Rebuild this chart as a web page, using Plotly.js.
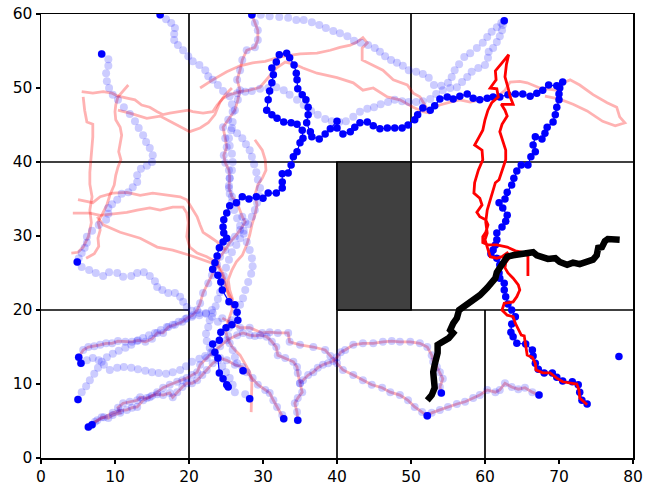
<!DOCTYPE html>
<html><head><meta charset="utf-8">
<script src="https://cdn.plot.ly/plotly-3.0.1.min.js"></script>
<style>html,body{margin:0;padding:0;background:#fff}#chart{width:646px;height:487px}</style>
</head><body><div id="chart"></div>
<script>
// ---------- walls & obstacle ----------
const wallSegments = [[[20,0],[20,60]],[[50,20],[50,60]],[[40,0],[40,40]],[[60,0],[60,20]],[[0,40],[80,40]],[[0,20],[20,20]],[[40,20],[80,20]]];
const blockX = [40,50,50,40,40];
const blockY = [20,20,40,40,20];

// ---------- start points (solid blue) ----------
const startPts = [[16.1,59.9],[8.2,54.6],[4.9,26.5],[5.1,13.6],[5.4,12.8],[5.0,7.9],[6.4,4.2],[6.9,4.5],[28.5,59.9],[62.6,59.1],[27.3,11.8],[28.2,8.0],[32.8,5.3],[34.7,5.1],[54.1,8.8],[52.2,5.7],[67.3,8.5],[78.1,13.7]];

// ---------- main executed trajectory (solid blue) ----------
const blueMain = [[25.3,9.6],[25.1,9.9],[24.6,10.7],[24.1,11.5],[23.9,13.5],[23.5,14.3],[23.2,15.4],[24.1,15.9],[24.3,17.0],[25.0,17.6],[25.8,18.0],[26.6,18.6],[26.5,19.7],[26.2,20.7],[25.4,21.1],[24.5,22.7],[24.3,23.8],[23.9,24.7],[23.2,25.5],[23.5,26.4],[23.8,27.3],[24.1,28.4],[24.6,29.2],[25.1,29.7],[24.7,30.4],[24.6,31.2],[24.7,32.2],[25.1,33.1],[25.5,34.1],[26.4,34.5],[27.2,35.3],[28.1,35.0],[29.1,35.3],[30.0,35.1],[30.7,35.8],[31.8,35.8],[32.6,36.5],[32.6,37.3],[32.6,38.4],[33.4,38.5],[33.8,39.6],[34.1,40.7],[34.6,41.4],[35.0,42.6],[35.4,43.2],[35.3,44.3],[34.6,45.1],[33.8,45.3],[32.8,45.4],[31.9,45.9],[31.2,46.4],[30.5,47.0],[30.7,48.4],[30.9,49.6],[31.2,50.7],[31.4,51.8],[31.2,52.7],[31.8,53.5],[32.2,54.5],[33.2,54.7],[33.6,54.1],[34.2,53.1],[34.5,52.0],[34.6,51.1],[34.7,49.9],[35.3,49.1],[35.8,48.4],[36.1,47.4],[36.1,46.4],[35.9,45.3],[36.4,44.1],[36.6,43.4],[37.6,43.1],[38.4,43.8],[39.1,44.5],[40.0,45.5],[40.0,44.6],[40.8,43.8],[41.8,44.1],[42.4,44.7],[43.1,45.3],[44.1,45.4],[44.9,44.9],[45.8,44.5],[46.8,44.6],[47.8,44.6],[48.8,44.6],[49.6,45.0],[50.5,45.7],[50.9,46.4],[51.6,47.3],[52.6,47.0],[53.2,47.6],[53.9,48.5],[54.9,48.8],[55.7,48.5],[56.6,48.9],[57.6,49.2],[58.4,48.6],[59.3,48.4],[60.3,48.6],[61.1,48.8],[62.0,48.8],[63.1,49.1],[64.1,49.2],[65.1,49.2],[66.1,48.9],[67.0,49.3],[67.8,49.7],[68.6,50.4],[69.7,50.3],[70.5,50.8],[70.1,50.0],[70.0,49.2],[70.0,48.4],[69.7,47.4],[69.5,46.4],[69.2,45.4],[68.4,44.7],[68.1,43.9],[67.7,43.1],[66.8,43.4],[66.5,42.3],[66.8,41.4],[66.2,40.7],[65.8,39.6],[64.9,39.6],[64.3,38.8],[63.9,37.8],[63.6,36.9],[63.0,35.9],[62.7,35.0],[61.9,34.5],[62.4,33.8],[63.0,32.8],[62.8,32.0],[62.3,31.2],[61.6,30.4],[61.6,29.5],[61.4,28.8],[61.1,28.1],[60.8,27.6],[61.6,27.0],[62.0,26.1],[61.9,25.0],[62.0,24.3],[62.6,23.6],[62.6,22.7],[62.8,21.8],[63.1,20.8],[63.6,20.0],[64.1,19.1],[63.6,18.1],[63.5,17.0],[63.8,16.4],[64.3,15.5],[65.5,15.4],[66.4,14.6],[66.5,13.8],[66.8,12.8],[67.2,12.0],[68.0,11.5],[69.1,11.5],[69.7,10.9],[70.5,10.4],[71.8,10.3],[72.6,9.9],[72.8,8.9],[73.1,7.8],[73.8,7.3]];

// ---------- solid red trajectory ----------
const redMain = [[73.8,7.2],[73.4,7.6],[72.8,8.1],[72.7,9.2],[72.4,10.0],[71.8,10.1],[70.5,10.3],[69.7,10.8],[68.8,11.5],[67.8,11.5],[66.9,11.9],[66.8,12.8],[66.4,13.6],[65.7,13.9],[65.4,15.5],[65.3,16.5],[64.9,16.6],[64.5,17.3],[64.1,18.2],[63.8,19.1],[63.0,19.3],[62.3,20.0],[62.6,20.9],[63.8,21.1],[64.3,21.8],[64.7,22.7],[64.5,23.4],[63.8,24.3],[63.1,25.0],[62.7,25.7],[62.8,26.4],[63.4,27.2],[63.0,27.7],[62.3,27.2],[61.6,27.0],[60.7,27.2],[60.3,28.5],[60.0,29.5],[60.3,30.4],[60.1,31.9],[60.3,33.5],[60.7,34.9],[61.1,36.2],[61.4,37.2],[61.9,37.6],[62.3,38.9],[62.8,40.3],[62.8,41.6],[62.4,43.0],[62.0,44.1],[62.3,45.1],[63.0,46.2],[62.7,47.0],[62.2,47.8],[63.8,47.8],[63.4,48.8],[63.1,50.1],[62.7,51.5],[62.9,53.2],[63.2,54.5],[62.3,53.4],[61.4,52.3],[61.5,51.1],[60.7,50.0],[61.6,49.9],[61.8,48.8],[60.9,48.0],[60.4,47.0],[60.0,45.7],[59.7,44.3],[59.1,43.2],[58.6,42.3],[59.6,41.6],[59.7,40.3],[59.1,38.9],[58.6,37.2],[58.5,35.8],[59.3,35.1],[59.6,34.2],[58.9,33.2],[59.3,32.6],[60.1,32.2],[60.4,31.5],[60.1,30.5],[59.7,29.9],[59.7,29.1],[60.4,28.8],[61.6,28.8],[63.0,28.5],[64.1,28.0],[65.1,27.8],[65.8,27.3],[65.8,25.8],[65.8,24.6]];

// ---------- black trajectory ----------
const blackPath = [[52.2,7.8],[52.8,8.5],[53.2,9.5],[53.0,10.5],[53.0,11.6],[53.2,12.6],[53.6,14.2],[53.6,15.3],[54.3,15.7],[55.1,16.2],[55.7,16.9],[55.3,17.3],[55.7,18.2],[56.2,18.9],[56.5,20.0],[57.6,20.8],[58.4,21.4],[59.3,22.0],[60.3,23.0],[60.7,23.6],[61.4,24.3],[61.6,25.1],[62.0,25.7],[62.4,26.5],[63.0,27.2],[63.8,27.4],[64.7,27.6],[65.8,27.7],[66.5,27.8],[67.0,27.4],[67.8,27.2],[68.5,26.9],[69.5,27.0],[70.1,26.5],[71.1,26.1],[71.9,26.4],[72.8,26.2],[73.8,26.5],[74.6,26.8],[75.1,27.4],[75.3,28.4],[75.8,28.5],[76.2,29.3],[76.6,29.6],[77.3,29.6],[78.2,29.5]];

// ---------- faint blue (dots only) ----------
const lb1 = [[16.1,59.9],[16.9,59.3],[17.6,58.8],[18.1,58.1],[18.0,57.3],[18.0,56.5],[18.5,55.8],[19.2,55.1],[19.9,54.3],[20.5,53.6],[21.4,53.1],[22.2,52.4],[22.6,51.6],[23.2,51.1],[23.9,50.4],[24.6,49.6],[25.5,48.9],[26.5,49.3],[27.6,49.5],[28.5,49.6],[29.6,49.9],[30.7,50.0],[31.8,50.1],[32.8,49.7],[33.6,49.1],[34.6,48.4],[35.5,47.7],[36.5,46.9],[37.4,46.4],[38.4,45.8],[39.3,45.5],[40.3,45.4],[41.2,45.5],[42.2,46.1],[43.1,46.8],[44.1,47.2],[45.0,47.4],[45.9,47.8],[46.9,48.1],[47.8,48.4],[48.8,48.2],[49.7,48.1],[50.7,48.1],[51.6,48.2],[52.6,48.5],[53.4,49.2],[54.3,49.7],[55.3,50.0],[56.2,50.1],[56.9,50.8],[57.6,51.5],[58.2,52.2],[59.1,52.7],[60.0,53.1],[60.4,54.1],[60.5,54.9],[61.1,55.4],[61.6,56.2],[62.0,57.0],[62.3,57.8],[62.4,58.5],[62.6,59.1]];
const lb2 = [[28.5,59.9],[29.7,59.9],[30.9,59.7],[32.2,59.6],[33.4,59.5],[34.5,59.2],[35.5,59.2],[36.6,58.9],[37.6,58.5],[38.5,58.1],[39.5,57.7],[40.4,57.4],[41.4,57.0],[42.3,56.4],[43.2,56.1],[44.2,55.8],[45.1,55.4],[45.8,54.9],[46.5,54.3],[47.3,53.8],[48.1,53.4],[48.9,53.0],[49.7,52.4],[50.7,52.2],[51.6,51.9],[52.4,51.4],[53.1,50.4],[54.1,50.3],[55.0,50.7],[55.5,51.5],[55.9,52.4],[56.5,53.2],[57.2,54.2],[58.0,54.7],[58.9,55.4],[59.7,56.1],[60.3,56.9],[60.9,57.6],[61.6,58.2],[62.2,58.8]];
const lb3 = [[8.2,54.6],[9.1,53.9],[9.1,53.0],[8.8,52.0],[8.9,50.9],[9.2,50.0],[9.7,49.1],[10.4,48.4],[11.2,47.4],[12.0,46.5],[12.7,45.5],[13.2,44.6],[13.8,43.6],[14.2,42.7],[14.7,41.9],[15.1,40.9],[15.0,40.0],[14.3,39.5],[13.5,39.1],[13.0,38.2],[13.0,37.3],[12.4,36.6],[11.8,35.9],[10.9,35.7],[10.3,34.9],[9.6,34.3],[9.1,33.8],[9.1,33.0],[8.8,32.2],[7.8,31.5],[6.9,30.7],[6.2,29.9],[6.2,29.1],[5.9,28.4],[5.5,27.7],[5.1,27.0]];
const lb4 = [[4.9,26.5],[5.5,25.8],[6.5,25.4],[7.4,25.0],[8.4,24.6],[9.2,25.1],[10.3,25.0],[11.1,24.5],[12.2,24.6],[13.0,25.0],[13.9,25.1],[14.7,24.6],[15.4,23.9],[15.7,23.1],[16.4,22.7],[17.2,22.3],[18.1,22.3],[18.8,21.8],[19.2,21.1],[19.7,20.4],[20.4,19.9],[21.4,19.6],[22.3,19.5],[23.1,19.1],[23.9,18.4]];
const lb5 = [[5.4,12.8],[6.2,13.2],[7.0,13.5],[7.8,13.2],[8.5,12.6],[9.3,11.9],[10.3,12.2],[11.2,12.3],[12.2,12.2],[13.1,12.0],[14.1,11.8],[15.0,11.6],[15.9,11.5],[16.9,11.4],[17.8,11.6],[18.8,11.9],[19.6,12.4],[20.4,13.0],[21.4,13.4],[22.2,13.8],[23.0,14.3]];
const lb6 = [[5.0,7.9],[5.5,8.9],[6.1,9.7],[6.6,10.5],[7.2,11.4],[7.7,12.2],[8.2,13.0],[8.9,13.6],[9.7,14.1],[10.5,14.5],[11.4,14.9],[12.2,15.3],[13.0,15.8],[13.8,16.2],[14.6,16.6],[15.4,16.9],[16.2,17.3],[17.0,17.7],[17.8,18.0],[18.6,18.4],[19.5,18.8],[20.4,19.1],[21.4,19.3],[22.3,19.6],[23.1,20.0]];
const lb7 = [[27.3,11.8],[26.5,12.8],[26.2,13.6],[25.9,14.6],[25.5,15.5],[25.3,16.5],[25.4,17.6],[25.8,18.6],[26.4,19.6],[26.9,20.7],[27.3,21.6],[27.6,22.7],[28.0,23.8],[28.4,24.9],[28.6,25.9],[28.5,27.0],[28.2,28.1],[27.8,29.2],[27.4,30.3],[26.9,31.4],[26.5,32.4],[26.1,33.5],[25.8,34.6],[25.5,35.7],[25.4,36.8],[25.5,37.8],[25.8,38.9],[25.9,40.0],[25.8,41.1],[25.5,42.2],[25.4,43.2],[25.7,44.3],[25.9,45.4],[25.9,46.8],[25.8,47.8]];
const lb8 = [[28.2,8.0],[27.6,8.6],[26.2,8.9],[25.9,9.9],[25.5,10.8],[25.0,11.6],[24.5,12.4],[23.9,13.2],[23.4,14.1],[22.8,14.9],[22.4,15.8],[22.3,16.8],[22.6,17.7],[22.8,18.6],[23.2,19.6],[23.6,20.5],[23.9,21.5],[24.2,22.4],[24.5,23.5],[24.7,24.6],[25.0,25.7],[25.4,26.8],[25.8,27.8],[26.4,28.8],[26.9,29.7],[27.4,30.7],[28.0,31.6],[28.5,32.6],[28.9,33.5],[29.2,34.5],[29.5,35.4],[29.6,36.5],[29.3,37.6],[29.1,38.6],[28.8,39.7],[28.5,40.7],[28.2,41.6],[27.7,42.4],[27.2,43.2],[26.5,43.9],[25.8,44.6]];

// ---------- faint red + faint blue dots (same path) ----------
const pkA = [[5.1,13.6],[5.7,14.6],[6.4,15.0],[7.2,15.1],[8.0,15.3],[8.8,15.5],[9.6,15.5],[10.4,15.8],[11.4,15.7],[12.3,15.7],[13.1,15.9],[14.1,15.7],[15.0,16.1],[15.7,16.9],[16.5,16.9],[17.2,17.7],[18.1,18.0],[19.1,18.4],[19.7,18.9],[20.5,19.3],[21.1,20.0],[21.5,20.9],[21.9,22.3],[22.6,23.6],[23.1,24.7],[23.8,26.1],[24.2,27.2],[24.9,28.1],[25.5,29.1],[26.2,29.9],[26.9,30.8],[27.6,31.9],[27.2,32.6],[26.5,34.5],[25.8,35.3],[25.4,36.5],[25.5,37.8],[25.4,38.9],[24.9,39.9],[24.7,40.9],[25.1,42.0],[24.9,43.2],[24.6,44.7],[25.3,45.7],[26.2,47.0],[26.6,48.4],[26.9,49.7],[26.5,51.1],[26.9,52.4],[27.2,53.8],[27.8,55.1],[28.9,55.5],[29.3,56.5],[29.3,57.8],[28.9,58.8],[28.5,59.9]];
const pkB1 = [[6.9,4.5],[7.6,5.1],[8.2,5.5],[9.1,5.4],[9.7,5.8],[10.7,6.1],[10.4,6.8],[11.1,7.4],[12.0,7.6],[13.0,7.8],[13.4,8.2],[14.3,8.1],[15.0,8.4],[15.7,8.6],[16.5,8.5],[17.4,8.8],[17.8,8.2],[18.4,8.9],[19.1,9.6],[19.7,10.1],[20.4,10.1],[21.1,10.5],[21.8,11.2],[22.4,11.9],[23.2,12.8],[24.2,13.5],[25.1,13.2],[26.2,12.6],[27.2,12.3],[27.8,11.6],[28.6,10.8],[29.3,9.9],[30.3,9.2],[30.9,8.8],[31.4,7.8],[31.9,6.9],[32.6,5.8],[32.8,5.3]];
const pkB2 = [[6.4,4.2],[7.3,4.9],[8.5,5.5],[9.7,6.1],[10.7,6.4],[11.6,6.5],[12.3,6.8],[13.0,6.9],[13.8,7.8],[14.7,8.2],[15.7,8.9],[16.5,9.5],[17.4,9.9],[18.4,10.3],[19.1,10.5],[19.7,10.8],[20.4,11.2],[21.1,11.6],[21.5,12.6],[22.4,13.5],[23.2,14.3],[24.2,15.1],[25.1,15.9],[26.5,16.6],[27.3,16.9],[28.2,16.6],[28.9,16.5],[29.6,16.6],[30.5,16.4],[31.2,15.7],[31.8,15.0],[32.0,13.9],[33.0,13.5],[34.1,13.0],[34.6,12.3],[34.7,11.5],[35.0,10.1],[35.3,8.9],[34.7,8.1],[34.3,7.4],[34.6,6.2],[34.7,5.1]];
const pkC = [[35.0,10.1],[35.4,10.5],[36.1,11.2],[36.8,11.6],[37.4,12.2],[38.1,12.6],[38.8,12.8],[39.5,13.1],[40.0,13.6],[40.5,14.3],[41.1,14.6],[42.2,15.3],[43.5,15.5],[44.9,15.5],[46.2,15.7],[47.4,15.8],[48.5,15.7],[49.9,15.7],[51.2,15.5],[52.2,15.0],[52.8,13.9],[53.0,13.0],[53.5,12.3],[53.9,11.6],[54.3,10.7],[53.9,9.6],[54.1,8.8]];
const pkD = [[24.5,18.9],[25.7,18.2],[26.9,17.6],[28.2,17.6],[29.9,16.9],[30.9,17.0],[32.0,16.9],[33.4,16.9],[33.6,15.7],[35.0,15.3],[36.8,15.0],[38.4,14.6],[39.1,13.8],[40.0,12.8],[40.8,11.9],[42.2,11.2],[43.5,10.5],[44.7,9.9],[46.1,9.5],[47.2,8.9],[48.5,8.5],[49.6,7.8],[50.5,6.9],[51.5,6.2],[52.2,5.7]];
const pkE = [[52.2,5.7],[52.8,6.1],[53.9,6.5],[55.0,6.9],[56.2,7.3],[57.3,7.6],[58.4,8.1],[59.3,8.5],[60.3,9.2],[61.4,8.9],[62.0,9.2],[62.7,10.1],[63.6,9.6],[64.5,9.3],[65.4,9.5],[66.4,8.9],[67.3,8.5]];

// ---------- faint red only ----------
const lr1 = [[5.5,49.5],[7.0,49.3],[8.4,49.5],[9.6,49.3],[10.4,48.9],[11.6,48.6],[12.7,48.4],[13.6,47.7],[14.7,47.4],[15.7,46.8],[16.5,46.4],[17.4,46.6],[18.8,46.8],[19.9,47.0],[20.5,46.8],[21.9,46.6],[23.2,46.8],[23.8,47.7],[24.6,48.6],[25.5,49.1],[26.9,49.5],[28.2,49.7],[29.6,50.1],[30.7,51.4],[31.8,52.7],[33.0,53.5],[34.3,53.2],[35.4,52.7],[37.3,52.0],[40.0,51.4],[42.2,50.7],[43.5,49.7],[44.9,50.0],[46.8,48.8],[48.5,48.4],[50.3,47.4],[51.6,46.8],[52.6,46.6]];
const lr2 = [[21.5,50.0],[23.2,51.1],[25.1,52.2],[26.9,53.0],[28.6,53.4],[30.3,53.6],[32.3,54.2],[35.0,54.6],[37.3,54.7],[39.1,55.1],[40.4,55.5],[41.8,55.8],[42.7,56.2],[43.5,56.8],[44.1,56.1],[43.4,55.4],[43.4,53.8],[44.9,53.1],[46.2,52.4],[47.6,51.1],[49.5,50.4],[50.3,49.3],[51.2,48.8],[52.3,47.0],[53.9,47.7],[55.3,48.1],[56.6,48.4],[58.0,48.1],[59.3,48.4],[60.7,48.6],[62.0,49.1],[62.7,49.7],[63.4,50.8],[64.7,50.9],[65.7,50.7],[67.4,50.0],[69.7,49.7],[70.8,50.8],[71.5,51.1],[72.8,50.4],[74.6,49.1],[76.5,48.0],[77.8,47.4],[78.2,46.1],[78.9,45.3],[77.6,44.9],[75.9,45.5],[73.8,46.9],[71.9,47.8],[70.1,48.5],[68.1,48.9]];
const lr3 = [[11.8,50.4],[10.4,48.8],[10.1,47.7],[10.0,46.8],[10.1,45.7],[10.7,44.7],[10.9,43.6],[10.7,42.3],[10.5,41.4],[10.8,40.3],[10.4,39.3],[10.1,38.2],[9.9,36.9],[9.3,35.5],[8.9,34.2],[8.2,32.8],[7.7,31.9],[8.0,30.8],[7.7,29.7],[7.8,28.6],[7.2,27.6],[6.1,27.0]];
const lr4 = [[5.7,48.8],[5.9,47.0],[6.2,45.4],[7.0,45.1],[7.0,43.4],[6.9,41.9],[6.8,40.3],[6.6,38.6],[6.6,37.0],[6.9,35.3],[6.6,33.5],[6.8,31.8],[6.4,29.9],[5.7,28.5],[5.0,27.8],[4.1,27.7]];
const lr5 = [[4.3,33.1],[6.6,33.1],[8.0,32.8],[10.3,33.1],[11.6,33.2],[13.0,33.5],[14.7,33.8],[16.1,33.5],[17.8,33.9],[19.2,33.9],[19.7,33.1],[19.9,31.8],[19.7,29.9],[20.1,28.5],[21.1,27.7],[22.4,27.2],[23.8,26.4],[24.5,25.1],[25.0,23.8],[25.3,22.0],[25.9,20.3]];
const lr6 = [[5.0,34.9],[7.0,34.5],[8.0,35.3],[9.7,35.8],[11.6,35.9],[13.4,35.5],[15.1,35.8],[17.0,35.5],[18.8,35.3],[19.7,34.9],[20.4,33.8],[21.1,32.6],[21.5,31.5],[21.9,30.5],[22.8,29.9],[23.8,29.2],[24.9,28.1]];
const lr7 = [[7.6,32.6],[8.4,31.5],[10.7,30.5],[13.4,29.7],[15.7,28.5],[17.8,28.1],[20.1,27.4],[21.9,26.8],[23.8,26.1],[24.5,24.7],[25.1,22.7],[25.8,21.4]];
const lr8 = [[10.4,47.0],[12.0,46.6],[14.3,45.9],[16.1,46.2],[17.8,45.3],[19.1,44.6],[20.1,44.1],[21.5,44.6],[22.6,45.3],[23.5,46.4],[24.2,48.1],[24.9,49.1],[25.8,50.0]];
const lr9 = [[28.4,6.2],[28.4,7.8],[28.4,9.2],[28.5,10.5],[28.2,11.6],[27.6,12.6],[26.9,13.9],[25.9,14.9],[25.3,15.9],[24.9,17.3],[25.3,18.6],[25.8,20.0],[25.9,21.4],[25.5,22.7],[25.3,24.1],[25.8,25.4],[26.4,26.5],[27.2,27.4],[27.8,28.8],[28.2,30.1],[28.5,31.5],[28.9,32.8],[29.2,34.2],[28.9,35.5],[29.3,36.9],[29.9,37.8],[30.4,38.9],[30.3,40.3],[29.9,41.6],[28.9,43.0]];

// ---------- build traces ----------
const X = a => a.map(p => p[0]);
const Y = a => a.map(p => p[1]);
const traces = [];
wallSegments.forEach(s => traces.push({x:[s[0][0],s[1][0]], y:[s[0][1],s[1][1]], mode:'lines', line:{color:'#000',width:1.7}, hoverinfo:'skip'}));
traces.push({x:blockX, y:blockY, mode:'lines', fill:'toself', fillcolor:'#404040', line:{color:'#000',width:1.7}, hoverinfo:'skip'});

const fRed = 'rgba(255,0,0,0.3)';
const fBlue = 'rgba(0,0,255,0.2)';
[lr1,lr2,lr3,lr4,lr5,lr6,lr7,lr8,lr9,pkA,pkB1,pkB2,pkC,pkD,pkE].forEach(a => traces.push({x:X(a), y:Y(a), mode:'lines', line:{color:fRed,width:2.8}, hoverinfo:'skip'}));
[lb1,lb2,lb3,lb4,lb5,lb6,lb7,lb8,pkA,pkB1,pkB2,pkC,pkD,pkE].forEach(a => traces.push({x:X(a), y:Y(a), mode:'markers', marker:{color:fBlue,size:8,line:{width:0}}, hoverinfo:'skip'}));

traces.push({x:X(blueMain), y:Y(blueMain), mode:'lines+markers', line:{color:'#0000ff',width:1.2}, marker:{color:'#0000ff',size:7.5,line:{width:0}}, hoverinfo:'skip'});
traces.push({x:X(startPts), y:Y(startPts), mode:'markers', marker:{color:'#0000ff',size:7.5,line:{width:0}}, hoverinfo:'skip'});
traces.push({x:X(redMain), y:Y(redMain), mode:'lines', line:{color:'#ff0000',width:2.8}, hoverinfo:'skip'});
traces.push({x:X(blackPath), y:Y(blackPath), mode:'lines', line:{color:'#000000',width:6.5}, hoverinfo:'skip'});

const axisCommon = {showgrid:false, zeroline:false, showline:true, mirror:true, linecolor:'#000', linewidth:1.5,
  ticks:'outside', ticklen:4, tickwidth:1.3, tickcolor:'#000', tickfont:{family:'DejaVu Sans', size:15.5, color:'#000'}};
const layout = {
  width:646, height:487, showlegend:false,
  margin:{l:41, r:13, t:14, b:29, pad:0},
  paper_bgcolor:'#fff', plot_bgcolor:'#fff',
  xaxis:Object.assign({range:[0,80], dtick:10, tick0:0}, axisCommon),
  yaxis:Object.assign({range:[0,60], dtick:10, tick0:0}, axisCommon)
};
Plotly.newPlot('chart', traces, layout, {staticPlot:true, displayModeBar:false});
</script></body></html>
